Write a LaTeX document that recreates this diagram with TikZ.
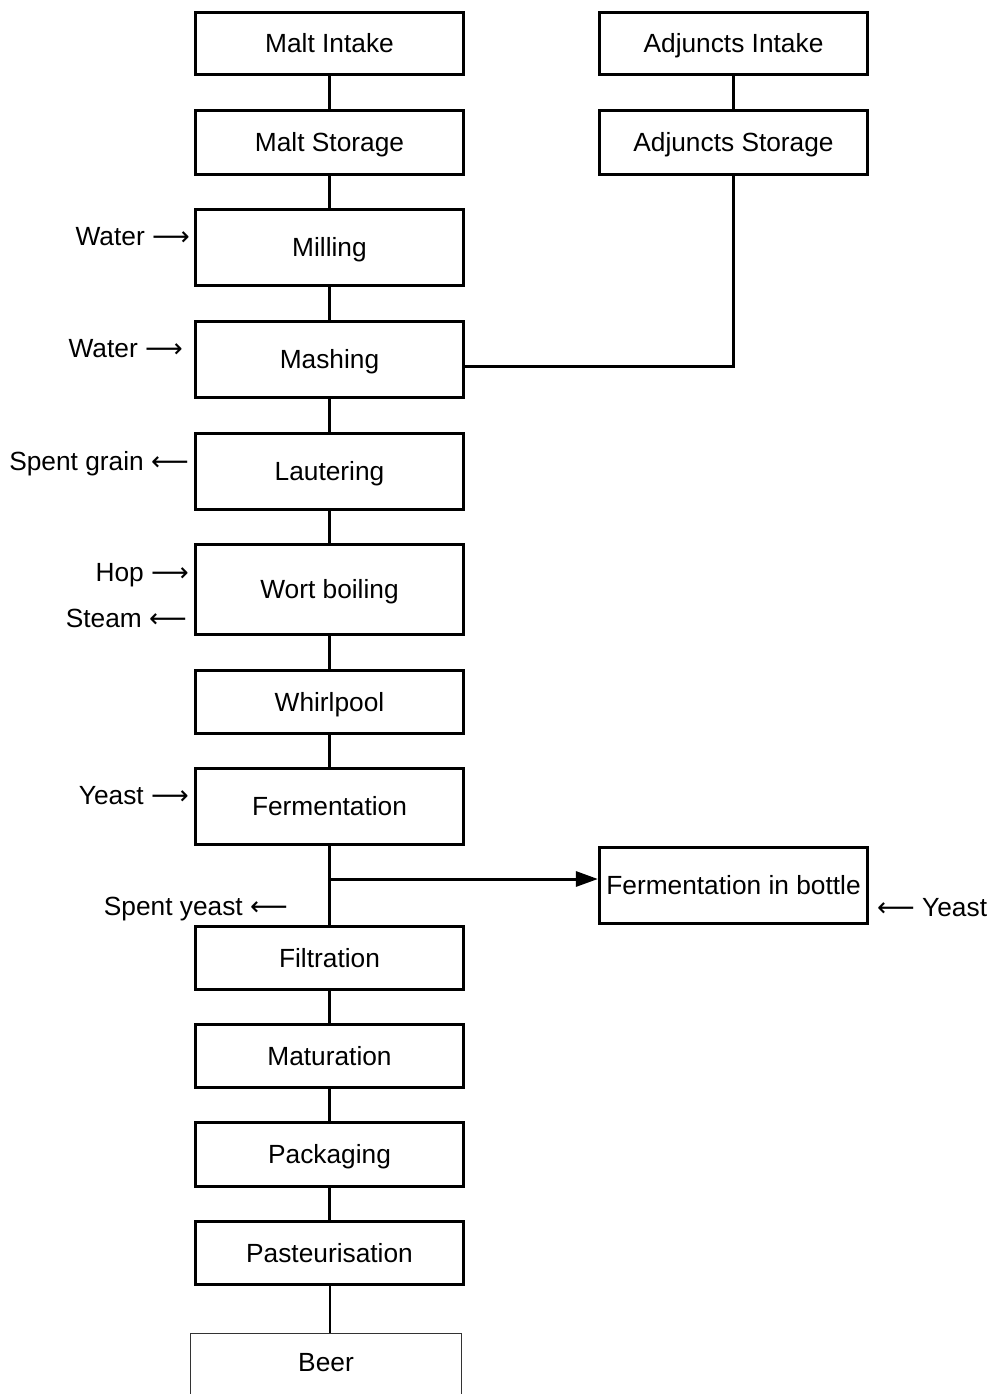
\documentclass[tikz,border=0pt]{standalone}
\usepackage{fontspec}
\setmainfont{Liberation Sans}
\newfontfamily\arrowfont{DejaVu Sans}
\usetikzlibrary{arrows.meta}
\newcommand{\rarr}{{\arrowfont ⟶}}
\newcommand{\larr}{{\arrowfont ⟵}}
\begin{document}
\begin{tikzpicture}[x=1pt,y=-1pt,
  every node/.style={font=\fontsize{26.3}{30}\selectfont},
  proc/.style={draw, line width=3.2pt, minimum width=268pt, inner sep=0pt, text height=18.8pt, text depth=0pt},
  conn/.style={line width=3pt},
  lbl/.style={anchor=base east, inner sep=0pt},
  lblr/.style={anchor=base west, inner sep=0pt}]
\useasboundingbox (0,0) rectangle (994,1394);
% main column
\node[proc, minimum height=62pt] (mi) at (329.5,43.5) {Malt Intake};
\node[proc, minimum height=64pt] (ms) at (329.5,142.5) {Malt Storage};
\node[proc, minimum height=76pt] (mil) at (329.5,247.5) {Milling};
\node[proc, minimum height=76pt] (mash) at (329.5,359.5) {Mashing};
\node[proc, minimum height=76pt] (lau) at (329.5,471.5) {Lautering};
\node[proc, minimum height=90pt] (wb) at (329.5,589.5) {Wort boiling};
\node[proc, minimum height=63pt] (wp) at (329.5,702) {Whirlpool};
\node[proc, minimum height=76pt] (fer) at (329.5,806.5) {Fermentation};
\node[proc, minimum height=63pt] (fil) at (329.5,958) {Filtration};
\node[proc, minimum height=63pt] (mat) at (329.5,1056) {Maturation};
\node[proc, minimum height=64pt] (pack) at (329.5,1154.5) {Packaging};
\node[proc, minimum height=63pt] (past) at (329.5,1253) {Pasteurisation};
\node[proc, draw=none, minimum height=54pt] (beer) at (326,1362) {Beer};
\draw[line width=1.5pt, black!80] ([yshift=-30pt]beer.south west) -- (beer.north west) -- (beer.north east) -- ([yshift=-30pt]beer.south east);
% right column
\node[proc, minimum height=62pt] (ai) at (733.5,43.5) {Adjuncts Intake};
\node[proc, minimum height=64pt] (as) at (733.5,142.5) {Adjuncts Storage};
\node[proc, minimum height=76pt] (fib) at (733.5,885.5) {Fermentation in bottle};
% connectors
\draw[conn] (mi) -- (ms);
\draw[conn] (ms) -- (mil);
\draw[conn] (mil) -- (mash);
\draw[conn] (mash) -- (lau);
\draw[conn] (lau) -- (wb);
\draw[conn] (wb) -- (wp);
\draw[conn] (wp) -- (fer);
\draw[conn] (fer) -- (fil);
\draw[conn] (fil) -- (mat);
\draw[conn] (mat) -- (pack);
\draw[conn] (pack) -- (past);
\draw[line width=2pt] (past.south) -- (past.south |- beer.north);
\draw[conn] (ai) -- (as);
\draw[conn] (as.south) |- ([yshift=-6.5pt]mash.east);
\coordinate (fj) at (329.5,879);
\draw[conn, -{Triangle[length=22pt,width=15pt]}] (fj) -- (fib.west |- fj);
% side labels
\node[lbl] (l1) at (190,245) {Water \rarr};
\node[lbl] (l2) at (183,357) {Water \rarr};
\node[lbl] (l3) at (189,470) {Spent grain \larr};
\node[lbl] (l4) at (189,581) {Hop \rarr};
\node[lbl] (l5) at (187,627) {Steam \larr};
\node[lbl] (l6) at (189,804) {Yeast \rarr};
\node[lbl] (l7) at (288,915) {Spent yeast \larr};
\node[lblr] (l8) at (877,916) {\larr{} Yeast};
\end{tikzpicture}
\end{document}
